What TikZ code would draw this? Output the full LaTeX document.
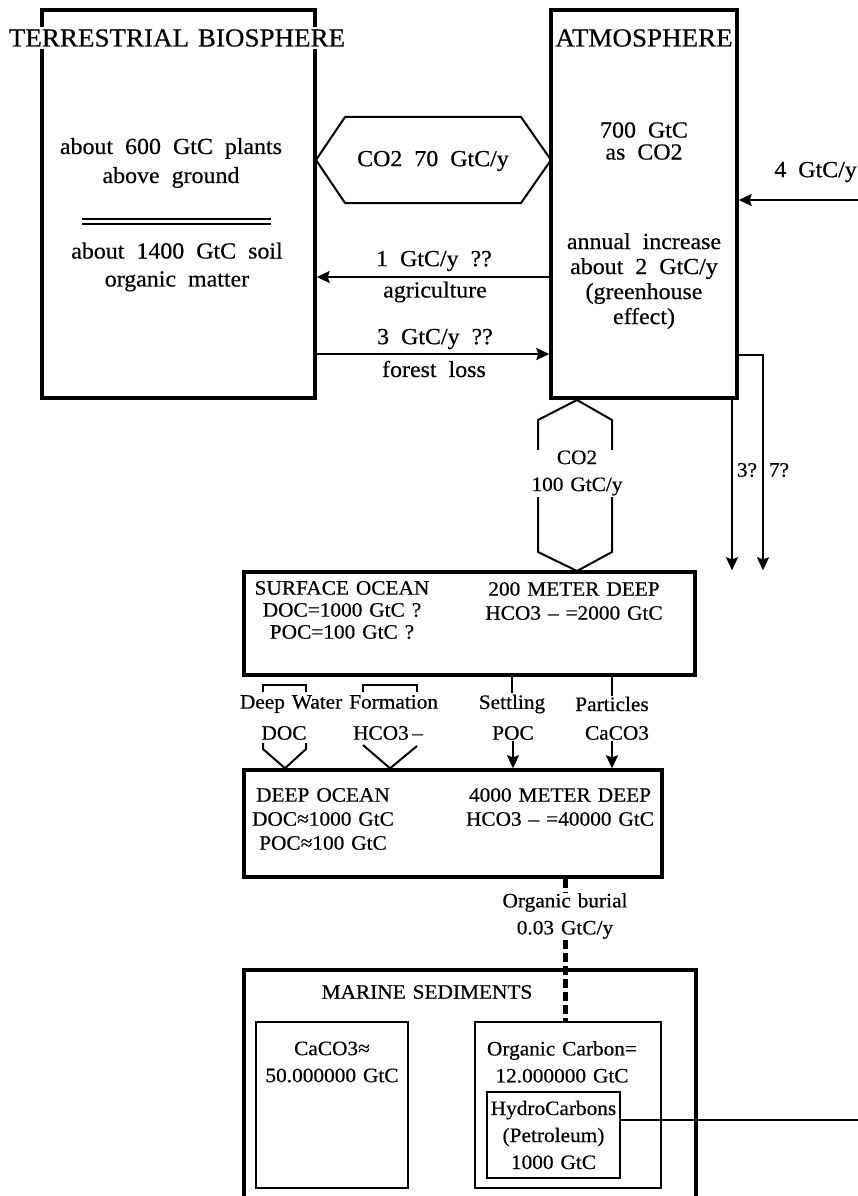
\documentclass[tikz,border=0pt]{standalone}
\usepackage{fontspec}
\setmainfont{Liberation Serif}[FakeStretch=1.04,FakeBold=0.5,WordSpace=1.3]
\usepackage{tikz}
\usetikzlibrary{arrows.meta,positioning,calc}
\newcommand\bodysize{\fontsize{20.5}{24}\selectfont}
\newcommand\bigsize{\fontsize{23}{27}\selectfont\spaceskip=12pt plus 2pt minus 1pt\relax}
\newcommand\headsize{\fontsize{26}{30}\selectfont}

\begin{document}
\begin{tikzpicture}[x=1pt,y=-1pt,
  box/.style={draw,line width=3.4pt,inner sep=0pt},
  inbox/.style={draw,line width=2.6pt,inner sep=0pt},
  txt/.style={align=center,inner sep=1pt,font=\bodysize},
  big/.style={align=center,inner sep=1pt,font=\bigsize},
  lines/.style={font={\fontsize{20.5}{#1}\selectfont}},
  biglines/.style={font={\fontsize{23}{#1}\selectfont\spaceskip=12pt plus 2pt minus 1pt\relax}},
  title/.style={font=\headsize,inner sep=2pt},
  flow/.style={-{Stealth[length=13pt,width=12pt,inset=2pt]},line width=1.6pt},
  thinline/.style={line width=1.6pt},
  hexa/.style={draw,line width=2pt,line join=miter},
  burialline/.style={line width=5pt,dash pattern=on 9pt off 4pt}
]
\useasboundingbox (0,0) rectangle (858,1196);

% reservoirs on top
\node[box,minimum width=273pt,minimum height=388pt] (bio) at (178.5,204) {};
\node[box,minimum width=186pt,minimum height=388pt] (atm) at (644,204) {};
\node[title,fill=white] (bioT) at (177,38) {TERRESTRIAL BIOSPHERE};
\node[title] (atmT) at (644,38) {ATMOSPHERE};

\node[big,biglines=29] (bioUp) at (171,163) {about 600 GtC plants\\above ground};
\draw[line width=1.8pt,double distance=3.5pt] (82,221.5) -- (271,221.5);
\node[big,biglines=28] (bioLow) at (177,267) {about 1400 GtC soil\\organic matter};

\node[big,biglines=22] (atmC) at (644,141) {700 GtC\\as CO2};
\node[big,biglines=25] (atmInc) at (644,281) {annual increase\\about 2 GtC/y\\(greenhouse\\effect)};

% exchange with the land
\draw[hexa] (316,160) -- (345,117) -- (521,117) -- (551,160) -- (521,203) -- (345,203) -- cycle;
\node[big] (co2a) at (433,161) {CO2 70 GtC/y};

\coordinate (agriY) at (0,277);
\draw[flow] (atm.west |- agriY) -- (bio.east |- agriY);
\node[big] (agriA) at (434,261) {1 GtC/y ??};
\node[big] (agriB) at (435,292) {agriculture};

\coordinate (forY) at (0,354);
\draw[flow] (bio.east |- forY) -- (atm.west |- forY);
\node[big] (forA) at (435,339) {3 GtC/y ??};
\node[big] (forB) at (434,369) {forest loss};

\coordinate (src4) at (858,200);
\draw[flow] (src4) -- (atm.east |- src4);
\node[big,anchor=east] (lab4) at (858,172) {4 GtC/y};

% surface ocean
\node[box,minimum width=451pt,minimum height=103pt] (ocs) at (469.5,623.5) {};
\node[txt,lines=22] (ocsL) at (342,610) {SURFACE OCEAN\\DOC=1000 GtC ?\\POC=100 GtC ?};
\node[txt,lines=24] (ocsR) at (574,601) {200 METER DEEP\\HCO3 – =2000 GtC};

\draw[hexa] (577,400) -- (612,420) -- (612,552) -- (577,571) -- (538,552) -- (538,420) -- cycle;
\node[txt,lines=27,fill=white] (co2b) at (577,473) {CO2\\100 GtC/y};

\coordinate (d3) at (732,0);
\coordinate (d7) at (763,355);
\draw[flow] (atm.south -| d3) -- (ocs.north -| d3);
\draw[flow] (atm.east |- d7) -| (ocs.north -| d7);
\node[txt] (lab3) at (747,470) {3?};
\node[txt] (lab7) at (779,470) {7?};

% transfer to the deep
\node[txt] (dwf) at (339,704) {Deep Water Formation};
\node[txt] (settle) at (512,704) {Settling};
\node[txt] (partic) at (612,704) {Particles};
\node[txt] (doc) at (284,733) {DOC};
\node[txt] (hco) at (388,733) {HCO3\,–};
\node[txt] (poc) at (513,733) {POC};
\node[txt] (caco3) at (617,733) {CaCO3};

\draw[thinline] (ocs.south -| settle.north) -- (settle.north);
\draw[thinline] (ocs.south -| partic.north) -- (partic.north);
\draw[thinline] (263,692) |- (306,685) -- (306,692);
\draw[thinline] (363,692) |- (417,685) -- (417,692);

\node[box,minimum width=418pt,minimum height=107pt] (deep) at (453,823.5) {};
\draw[hexa] (263,743) -- (263,749) -- (deep.north -| 285,0) -- (306,749) -- (306,743);
\draw[hexa] (363,745) -- (deep.north -| 390,0) -- (417,746);
\draw[flow] (poc.south) -- (deep.north -| poc.south);
\draw[flow] (caco3.south -| partic) -- (deep.north -| partic);

\node[txt,lines=24] (deepL) at (323,819) {DEEP OCEAN\\DOC≈1000 GtC\\POC≈100 GtC};
\node[txt,lines=24] (deepR) at (560,807) {4000 METER DEEP\\HCO3 – =40000 GtC};

% sediments
\node[txt,lines=27] (burial) at (565,916) {Organic burial\\0.03 GtC/y};
\draw[box] (244,1210) -- (244,970) -- (696,970) -- (696,1210);
\node[txt] (sedT) at (427,992) {MARINE SEDIMENTS};

\node[inbox,minimum width=152pt,minimum height=166pt] (caco) at (332,1105) {};
\node[txt,lines=27] (cacoT) at (332,1062) {CaCO3≈\\50.000000 GtC};
\node[inbox,minimum width=186pt,minimum height=166pt] (orgc) at (568,1105) {};
\node[txt,lines=27] (orgcT) at (562,1062) {Organic Carbon=\\12.000000 GtC};
\node[inbox,line width=2.2pt,minimum width=133pt,minimum height=86pt] (hydro) at (553.5,1135) {};
\node[txt,lines=27] (hydroT) at (553.5,1135) {HydroCarbons\\(Petroleum)\\1000 GtC};

\coordinate (bx) at (565,0);
\draw[burialline] (deep.south -| bx) -- (burial.north -| bx);
\draw[burialline] (burial.south -| bx) -- (orgc.north -| bx);

\coordinate (out) at (858,1120);
\draw[thinline] (hydro.east |- out) -- (out);
\end{tikzpicture}
\end{document}
